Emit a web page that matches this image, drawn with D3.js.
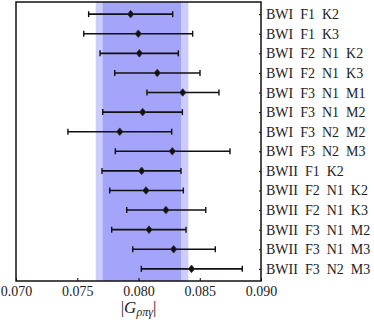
<!DOCTYPE html>
<html lang="en">
<head>
<meta charset="utf-8">
<title>G rho pi gamma</title>
<script src="https://d3js.org/d3.v7.min.js"></script>
<style>
  body { margin: 0; background: #fff; }
  svg text { font-family: "Liberation Serif", serif; }
</style>
</head>
<body>
<div id="chart"></div>
<script>

// ensemble labels, top to bottom
var labels = ["BWI  F1  K2", "BWI  F1  K3", "BWI  F2  N1  K2", "BWI  F2  N1  K3",
  "BWI  F3  N1  M1", "BWI  F3  N1  M2", "BWI  F3  N2  M2", "BWI  F3  N2  M3",
  "BWII  F1  K2", "BWII  F2  N1  K2", "BWII  F2  N1  K3", "BWII  F3  N1  M2",
  "BWII  F3  N1  M3", "BWII  F3  N2  M3"];
var centers = [0.07936, 0.07998, 0.08007, 0.08153, 0.08361, 0.08034, 0.07847,
  0.08276, 0.08026, 0.08061, 0.08224, 0.08086, 0.08287, 0.08433];
var lows = [0.07593, 0.07553, 0.07686, 0.07806, 0.08069, 0.07708, 0.07424,
  0.07811, 0.07702, 0.07765, 0.07904, 0.07781, 0.07953, 0.08023];
var highs = [0.08279, 0.08442, 0.08325, 0.08502, 0.08657, 0.08358, 0.08271,
  0.08747, 0.08347, 0.08366, 0.08549, 0.08388, 0.08627, 0.08847];
var xTicks = [0.070, 0.075, 0.080, 0.085, 0.090];
// averaged band: outer (light) and inner (dark)
var bandOuter = [0.07651, 0.08407];
var bandInner = [0.07708, 0.08347];

var width = 374, height = 320;
var margin = {top: 2, right: 113, bottom: 39, left: 16};

var svg = d3.select("#chart")
  .append("svg")
  .attr("width", width)
  .attr("height", height);

var x = d3.scaleLinear()
  .domain([0.070, 0.090])
  .range([margin.left, width - margin.right]);

var y = d3.scalePoint()
  .domain(labels)
  .range([margin.top, height - margin.bottom])
  .padding(0.62);

var plotTop = margin.top, plotBottom = height - margin.bottom;

// bands
svg.append("rect")
  .attr("x", x(bandOuter[0]))
  .attr("y", plotTop)
  .attr("width", x(bandOuter[1]) - x(bandOuter[0]))
  .attr("height", plotBottom - plotTop)
  .attr("fill", "#cdcdfd");
svg.append("rect")
  .attr("x", x(bandInner[0]))
  .attr("y", plotTop)
  .attr("width", x(bandInner[1]) - x(bandInner[0]))
  .attr("height", plotBottom - plotTop)
  .attr("fill", "#a4a4fb");

// x axis (ticks point inward)
var xAxis = svg.append("g")
  .attr("transform", "translate(0," + plotBottom + ")")
  .call(d3.axisBottom(x).tickValues(xTicks).tickSizeInner(-3).tickSizeOuter(0)
    .tickPadding(5).tickFormat(d3.format(".3f")));
xAxis.attr("font-family", "Liberation Serif").attr("font-size", 14);
xAxis.select(".domain").remove();
xAxis.selectAll(".tick line").attr("stroke", "#000").attr("stroke-width", 1);
xAxis.selectAll("text").attr("fill", "#222");

// y axis on the right with labels
var yAxis = svg.append("g")
  .attr("transform", "translate(" + (width - margin.right) + ",0)")
  .call(d3.axisRight(y).tickSizeInner(-2).tickSizeOuter(0).tickPadding(5));
yAxis.attr("font-family", "Liberation Serif").attr("font-size", 14);
yAxis.select(".domain").remove();
yAxis.selectAll(".tick line").attr("stroke", "#000");
yAxis.selectAll("text")
  .attr("fill", "#222")
  .style("white-space", "pre");

// error bars
var rows = labels.map(function(l, i) {
  return {label: l, c: centers[i], lo: lows[i], hi: highs[i]};
});

var g = svg.append("g");
g.selectAll(".bar")
  .data(rows)
  .enter()
  .append("line")
    .attr("x1", function(d) { return x(d.lo); })
    .attr("x2", function(d) { return x(d.hi); })
    .attr("y1", function(d) { return y(d.label); })
    .attr("y2", function(d) { return y(d.label); })
    .attr("stroke", "#111")
    .attr("stroke-width", 1.6);

["lo", "hi"].forEach(function(k) {
  g.selectAll(".cap-" + k)
    .data(rows)
    .enter()
    .append("line")
      .attr("x1", function(d) { return x(d[k]); })
      .attr("x2", function(d) { return x(d[k]); })
      .attr("y1", function(d) { return y(d.label) - 3; })
      .attr("y2", function(d) { return y(d.label) + 3; })
      .attr("stroke", "#111")
      .attr("stroke-width", 1.4);
});

g.selectAll(".pt")
  .data(rows)
  .enter()
  .append("path")
    .attr("d", "M0,-3.8L3.2,0L0,3.8L-3.2,0Z")
    .attr("transform", function(d) { return "translate(" + x(d.c) + "," + y(d.label) + ")"; })
    .attr("fill", "#111")
    .attr("stroke", "#333")
    .attr("stroke-width", 0.8);

// frame
svg.append("rect")
  .attr("x", margin.left)
  .attr("y", plotTop)
  .attr("width", width - margin.right - margin.left)
  .attr("height", plotBottom - plotTop)
  .attr("fill", "none")
  .attr("stroke", "#111")
  .attr("stroke-width", 1.5);

// x label |G_ρπγ|
var xl = svg.append("text")
  .attr("x", x(0.080))
  .attr("y", 313)
  .attr("text-anchor", "middle")
  .attr("font-size", 17)
  .attr("fill", "#222");
xl.append("tspan").text("|");
xl.append("tspan").attr("font-style", "italic").text("G");
xl.append("tspan").attr("font-style", "italic").attr("font-size", 12).attr("dy", 3).text("ρπγ");
xl.append("tspan").attr("dy", -3).text("|");

</script>
</body>
</html>
